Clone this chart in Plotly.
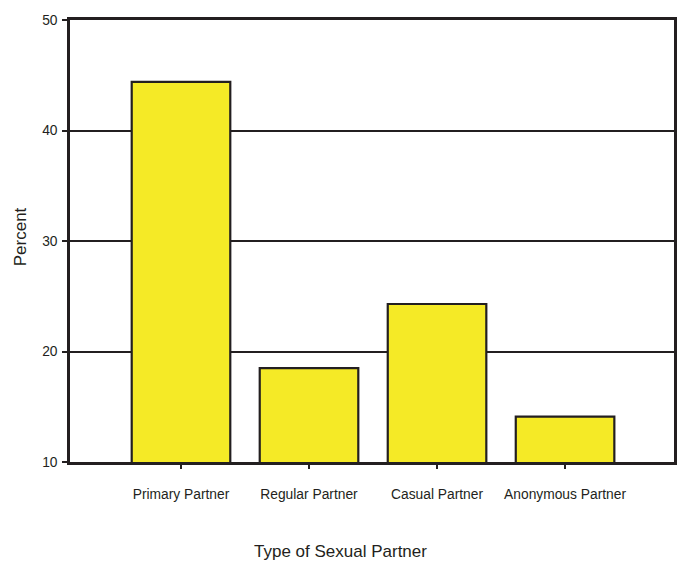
import plotly.graph_objects as go

# Share of respondents by type of sexual partner
categories = ["Primary Partner", "Regular Partner", "Casual Partner", "Anonymous Partner"]
percent = [44.4, 18.5, 24.3, 14.1]
y_ticks = [10, 20, 30, 40, 50]

DARK = "#231F20"
YELLOW = "#F5EA26"
FONT = "Arial, Liberation Sans, sans-serif"

W, H = 683, 561
L, R, T, B = 70, 6, 20, 99

fig = go.Figure(
    go.Bar(
        x=list(range(len(categories))),
        y=percent,
        width=0.77,
        marker=dict(color=YELLOW, line=dict(color=DARK, width=2.2)),
        hoverinfo="skip",
    )
)

fig.update_layout(
    width=W,
    height=H,
    margin=dict(l=L, r=R, t=T, b=B),
    paper_bgcolor="white",
    plot_bgcolor="white",
    showlegend=False,
    font=dict(family=FONT, color=DARK),
    xaxis=dict(
        range=[-0.867, 3.851],
        tickmode="array",
        tickvals=list(range(len(categories))),
        ticktext=categories,
        ticks="outside",
        ticklen=4,
        tickwidth=2,
        tickcolor=DARK,
        ticklabelstandoff=14,
        tickfont=dict(size=13.8, color=DARK),
        showgrid=False,
        showline=True,
        linecolor=DARK,
        linewidth=2.5,
        mirror=True,
        zeroline=False,
    ),
    yaxis=dict(
        range=[10, 50],
        tickmode="array",
        tickvals=y_ticks,
        ticktext=[str(v) for v in y_ticks],
        ticks="outside",
        ticklen=5,
        tickwidth=2,
        tickcolor=DARK,
        ticklabelstandoff=2,
        tickfont=dict(size=13.8, color=DARK),
        showgrid=True,
        gridcolor=DARK,
        gridwidth=2,
        showline=True,
        linecolor=DARK,
        linewidth=2.5,
        mirror=True,
        zeroline=False,
    ),
    annotations=[
        dict(
            text="Type of Sexual Partner",
            xref="paper", yref="paper",
            x=(342 - L) / (W - L - R), y=(H - B - 551) / (H - T - B),
            xanchor="center", yanchor="middle",
            showarrow=False,
            font=dict(size=17, color=DARK, family=FONT),
        ),
        dict(
            text="Percent",
            xref="paper", yref="paper",
            x=(20 - L) / (W - L - R), y=(H - B - 237) / (H - T - B),
            xanchor="center", yanchor="middle",
            textangle=-90,
            showarrow=False,
            font=dict(size=17, color=DARK, family=FONT),
        ),
    ],
)

fig.write_html("out.html")
